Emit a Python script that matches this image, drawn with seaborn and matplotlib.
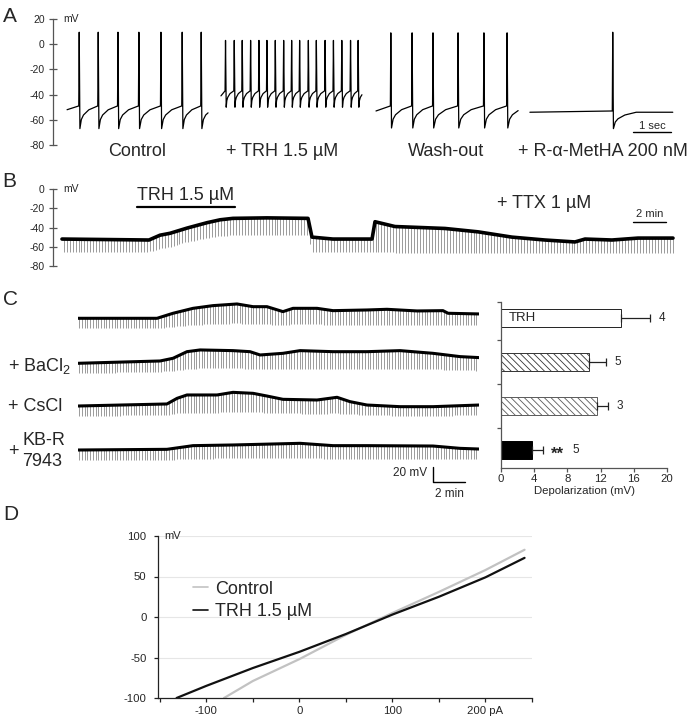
import numpy as np
import pandas as pd
import matplotlib
matplotlib.use("Agg")
import matplotlib.pyplot as plt
import seaborn as sns

# ---------------- data ----------------
# Panel A: spike trains (local time in s within each 3.7 s sweep)
a_labels = ["Control", "+ TRH 1.5 µM", "Wash-out", "+ R-α-MetHA 200 nM"]
a_seg_start = [0.37, 4.42, 8.50, 12.55]
a_seg_len = [3.71, 3.71, 3.74, 3.76]
ctrl_spikes = [0.32, 0.82, 1.34, 1.89, 2.47, 3.03, 3.53]
trh_spikes = [0.12, 0.35, 0.56, 0.78, 1.00, 1.21, 1.43, 1.65, 1.86, 2.07,
              2.30, 2.51, 2.74, 2.96, 3.18, 3.41, 3.61]
wash_spikes = [0.39, 0.95, 1.50, 2.16, 2.84, 3.45]
metha_spikes = [2.18]
a_peak = [9.5, 3.0, 9.0, 9.5]
a_trough = [-67.0, -50.0, -66.5, -67.0]
a_thresh = [-49.0, -37.0, -49.0, -53.0]
a_rest = [-52.0, -41.0, -53.0, -54.0]
ahp_t = [0.0, 0.08, 0.2, 0.5, 1.0]      # fraction of interspike interval
ahp_v = [0.0, 0.4, 0.6, 0.83, 1.0]      # fraction of recovery trough -> threshold

# Panel B: membrane potential (min, mV) and hyperpolarising pulse tips
b_t = [0, 5.27, 5.94, 6.55, 7.58, 8.79, 9.58, 10.36, 12.42, 14.91, 15.15, 16.42,
       18.79, 18.97, 20.18, 23.21, 25.21, 27.27, 29.27, 31.09, 31.70, 33.33, 34.91, 37.03]
b_top = [-52, -53, -48, -46, -40.6, -35, -32, -30.5, -30, -30.5, -50, -52,
         -52, -34, -39, -41, -44.5, -50, -53, -55, -52, -53, -51, -51]
b_tip = [-65, -65, -62, -60, -55, -51, -49, -48, -48, -48, -65, -65,
         -65, -65, -66, -66, -66, -66, -66, -66, -66, -66, -66, -66]
b_trh_on = [4.55, 10.48]

# Panel C traces (min, mV relative to initial baseline)
c1_t = [0, 4.94, 5.94, 7.19, 8.44, 9.94, 10.94, 11.81, 12.81, 13.44, 14.94, 15.94,
        18.06, 19.31, 21.19, 22.81, 23.13, 25.06]
c1_top = [0, 0, 6.7, 13.3, 16.9, 19.1, 15.5, 15.5, 8.9, 13.3, 13.3, 10.2,
          11.1, 12.0, 9.8, 10.2, 6.7, 5.8]
c1_tip = [-13.3, -13.3, -11.1, -8.9, -7.6, -6.7, -7.6, -8.0, -8.9, -8.0, -8.0, -8.9,
          -8.9, -8.4, -8.9, -8.9, -8.9, -8.9]
c2_t = [0, 5.13, 5.94, 6.81, 7.63, 9.69, 10.75, 11.38, 12.81, 13.88, 15.94, 18.06,
        20.13, 22.19, 23.88, 25.06]
c2_top = [0, 3.1, 6.7, 15.5, 17.8, 16.9, 15.5, 11.1, 13.3, 16.9, 15.5, 15.5,
          16.9, 13.3, 8.9, 7.6]
c2_tip = [-13.3, -11.1, -9.8, -8.0, -6.7, -6.7, -7.1, -8.0, -8.0, -7.1, -7.6, -7.6,
          -7.1, -8.0, -8.9, -9.8]
c3_t = [0, 5.56, 6.19, 6.81, 8.69, 9.69, 10.94, 11.81, 12.81, 14.94, 16.19, 17.0,
        18.06, 20.13, 22.19, 25.06]
c3_top = [0, 2.7, 10.2, 14.7, 14.7, 18.2, 16.9, 13.3, 8.9, 8.0, 11.6, 5.8,
          1.3, -0.9, -0.9, 1.3]
c3_tip = [-13.3, -12.0, -9.8, -8.9, -8.9, -7.6, -8.0, -8.9, -9.8, -10.2, -9.8, -10.7,
          -12.0, -12.9, -12.9, -12.4]
c4_t = [0, 5.56, 7.19, 9.69, 13.88, 15.94, 18.06, 22.19, 23.88, 25.06]
c4_top = [0, 0.9, 5.8, 6.7, 8.9, 5.8, 5.8, 5.3, 2.2, 1.3]
c4_tip = [-13.3, -13.3, -11.6, -11.1, -10.7, -11.6, -11.6, -11.6, -12.4, -12.4]
c_labels = ["", "+ BaCl$_2$", "+ CsCl", "+ KB-R\n7943"]

# Panel C bar chart
bar_cond = ["TRH", "+ BaCl2", "+ CsCl", "+ KB-R 7943"]
bar_mean = [14.4, 10.6, 11.6, 3.7]
bar_sem = [3.55, 2.05, 1.3, 1.36]
bar_n = ["4", "5", "3", "5"]

# Panel D: I-V relation
ctrl_I = [-81, -50, 0, 50, 100, 150, 200, 242]
ctrl_V = [-100, -79, -52, -22, 5, 31, 58, 83]
trh_I = [-132, -100, -50, 0, 50, 100, 150, 200, 242]
trh_V = [-100, -85, -63, -43, -21, 3, 25, 49, 73]

# ---------------- style ----------------
sns.set_theme(style="white")
plt.rcParams["font.family"] = ["Liberation Sans", "DejaVu Sans"]
plt.rcParams["mathtext.default"] = "regular"
plt.rcParams["axes.unicode_minus"] = False
plt.rcParams["hatch.linewidth"] = 0.6

W, H = 689, 719
fig = plt.figure(figsize=(W / 100, H / 100), dpi=100)
fig.patch.set_facecolor("white")


def add_ax(x0, y0, x1, y1):
    a = fig.add_axes([x0 / W, 1 - y1 / H, (x1 - x0) / W, (y1 - y0) / H])
    a.set_facecolor("none")
    return a


def ftext(x, y, s, **kw):
    fig.text(x / W, 1 - y / H, s, **kw)


def line(ax, x, y, **kw):
    sns.lineplot(x=np.asarray(x, float), y=np.asarray(y, float), ax=ax, sort=False,
                 estimator=None, errorbar=None, **kw)


SPINE = "#555555"


def vaxis(ax, ticks):
    for s in ["top", "right", "bottom"]:
        ax.spines[s].set_visible(False)
    ax.spines["left"].set_color(SPINE)
    ax.spines["left"].set_linewidth(0.9)
    ax.set_yticks(ticks)
    ax.set_yticklabels([str(t) for t in ticks])
    ax.set_xticks([])
    ax.tick_params(axis="y", direction="inout", length=6, width=0.9, color=SPINE,
                   labelsize=7.5, pad=3, left=True)
    ax.set_xlabel("")
    ax.set_ylabel("")


# ---------------- Panel A ----------------
axA = add_ax(53, 19, 689, 145)
seg_spikes = [ctrl_spikes, trh_spikes, wash_spikes, metha_spikes]
for k in range(4):
    sp = seg_spikes[k]
    L = a_seg_len[k]
    pk, tr, th, rs = a_peak[k], a_trough[k], a_thresh[k], a_rest[k]
    t = [0.0]
    v = [rs]
    for i, s in enumerate(sp):
        t += [s - 0.012, s, s + 0.018]
        v += [th, pk, tr]
        if i + 1 < len(sp):
            span = sp[i + 1] - 0.012 - (s + 0.018)
            end_v = th
        else:
            span = (s - sp[i - 1]) if i > 0 else 0.6
            end_v = rs if len(sp) == 1 else th
        rng = ahp_t[1:] if i + 1 == len(sp) else ahp_t[1:-1]
        rv = ahp_v[1:] if i + 1 == len(sp) else ahp_v[1:-1]
        for ft, fv in zip(rng, rv):
            t.append(s + 0.018 + ft * span)
            v.append(tr + fv * (end_v - tr))
    t = np.array(t)
    v = np.array(v)
    keep = t < L
    tt = list(t[keep]) + [L]
    vv = list(v[keep]) + [float(np.interp(L, t, v))]
    line(axA, np.array(tt) + a_seg_start[k], vv, color="black", linewidth=0.9)

axA.set_xlim(0, (689 - 53) / 38)
axA.set_ylim(-80, 20)
vaxis(axA, [20, 0, -20, -40, -60, -80])
axA.text((63 - 53) / 38, 20, "mV", fontsize=7.5, va="center", ha="left")
axA.plot([15.26, 16.26], [-69.7, -69.7], color="black", lw=1.0)
axA.text(15.76, -67.3, "1 sec", fontsize=8, ha="center", va="baseline")
for lab, cx in zip(a_labels, [137, 282, 446, 603]):
    ftext(cx, 156, lab, fontsize=13, ha="center", va="baseline")

# ---------------- Panel B ----------------
axB = add_ax(53, 189, 689, 266)
tk = np.arange(0.1, b_t[-1], 0.18)
axB.vlines(tk, np.interp(tk, b_t, b_tip), np.interp(tk, b_t, b_top),
           color="#8a8a8a", lw=0.6)
line(axB, b_t, b_top, color="black", linewidth=2.6)
axB.set_xlim((53 - 62) / 16.5, (689 - 62) / 16.5)
axB.set_ylim(-80, 0)
vaxis(axB, [0, -20, -40, -60, -80])
axB.text((63 - 62) / 16.5, 0, "mV", fontsize=7.5, va="center", ha="left")
axB.plot(b_trh_on, [-18.7, -18.7], color="black", lw=1.6, clip_on=False)
axB.text(np.mean(b_trh_on), -11.4, "TRH 1.5 µM", fontsize=13, ha="center", va="baseline")
axB.text(29.2, -19.7, "+ TTX 1 µM", fontsize=13, ha="center", va="baseline")
axB.plot([34.6, 36.6], [-34.3, -34.3], color="black", lw=1.0)
axB.text(35.6, -29.1, "2 min", fontsize=8, ha="center", va="baseline")

# ---------------- Panel C traces ----------------
axC = add_ax(78, 290, 479, 500)
c_sets = [(c1_t, c1_top, c1_tip), (c2_t, c2_top, c2_tip),
          (c3_t, c3_top, c3_tip), (c4_t, c4_top, c4_tip)]
c_base_px = [318.3, 363.3, 406.0, 450.0]
for (ct, ctop, ctip), bpx in zip(c_sets, c_base_px):
    off = -(bpx - 318.3) / 0.75
    tk = np.arange(0.08, ct[-1], 0.17)
    axC.vlines(tk, np.interp(tk, ct, ctip) + off, np.interp(tk, ct, ctop) + off,
               color="#8a8a8a", lw=0.6)
    line(axC, ct, np.array(ctop) + off, color="black", linewidth=2.2)
axC.set_xlim(0, (479 - 78) / 16)
axC.set_ylim(-(500 - 318.3) / 0.75, (318.3 - 290) / 0.75)
axC.axis("off")
x_sb = (433 - 78) / 16
axC.plot([x_sb, x_sb, x_sb + 2], [-198.3, -218.3, -218.3], color="black", lw=1.0)
ftext(427, 473, "20 mV", fontsize=8.5, ha="right", va="center")
ftext(449, 497, "2 min", fontsize=8.5, ha="center", va="baseline")
ftext(8, 370.7, c_labels[1], fontsize=13, ha="left", va="baseline")
ftext(8, 410.7, c_labels[2], fontsize=13, ha="left", va="baseline")
ftext(8, 456, "+", fontsize=13, ha="left", va="baseline")
ftext(22, 445, "KB-R", fontsize=13, ha="left", va="baseline")
ftext(22, 466, "7943", fontsize=13, ha="left", va="baseline")

# ---------------- Panel C bar chart ----------------
axBar = add_ax(501, 302, 667, 468)
df_bar = pd.DataFrame({"cond": bar_cond, "dep": bar_mean})
sns.barplot(data=df_bar, y="cond", x="dep", orient="h", ax=axBar, width=0.43,
            color="white", errorbar=None)
styles = [("white", "#222222", ""), ("white", "#333333", "\\\\\\\\\\"),
          ("white", "#5a5a5a", "\\\\\\\\\\"), ("black", "black", "")]
for p, (fc, ec, ht) in zip(axBar.patches, styles):
    p.set_facecolor(fc)
    p.set_edgecolor(ec)
    p.set_hatch(ht)
    p.set_linewidth(0.7)
axBar.errorbar(bar_mean, np.arange(4), xerr=[np.zeros(4), bar_sem], fmt="none",
               ecolor="#222222", elinewidth=0.9, capsize=2.6, capthick=0.9)
axBar.set_xlim(0, 20)
axBar.set_ylim(3.41, -0.364)
axBar.set_xticks([0, 4, 8, 12, 16, 20])
axBar.set_yticks([-0.364, 0.5, 1.5, 2.5])
axBar.set_yticklabels([])
for s in ["top", "right"]:
    axBar.spines[s].set_visible(False)
for s in ["left", "bottom"]:
    axBar.spines[s].set_color(SPINE)
    axBar.spines[s].set_linewidth(0.9)
axBar.tick_params(axis="x", direction="out", length=3, width=0.9, color=SPINE,
                  labelsize=8.2, pad=1.5, bottom=True)
axBar.tick_params(axis="y", direction="out", length=3, width=0.9, color=SPINE, left=True)
axBar.set_ylabel("")
axBar.set_xlabel("Depolarization (mV)", fontsize=8.2)
axBar.xaxis.set_label_coords(0.5, -(486 - 468) / 166)
axBar.text(0.9, 0, "TRH", fontsize=9.5, va="center", ha="left")
for i in range(4):
    xe = bar_mean[i] + bar_sem[i]
    if i == 3:
        axBar.text(xe + 0.9, 3 + 0.2, "**", fontsize=12, fontweight="bold",
                   va="baseline", ha="left")
        axBar.text(xe + 3.6, 3, bar_n[i], fontsize=8.5, va="center", ha="left")
    else:
        axBar.text(xe + 1.0, i, bar_n[i], fontsize=8.5, va="center", ha="left")

# ---------------- Panel D ----------------
axD = add_ax(157.5, 536, 532, 698)
df_d = pd.concat([
    pd.DataFrame({"pA": ctrl_I, "mV": ctrl_V, "cond": "Control"}),
    pd.DataFrame({"pA": trh_I, "mV": trh_V, "cond": "TRH 1.5 µM"}),
])
for yv in [100, 50, 0, -50]:
    axD.axhline(yv, color="#e6e6e6", lw=0.8, zorder=0)
sns.lineplot(data=df_d, x="pA", y="mV", hue="cond",
             palette={"Control": "#c2c2c2", "TRH 1.5 µM": "#111111"},
             linewidth=1.6, ax=axD, sort=False, estimator=None)
axD.set_xlim(-152.5, 250)
axD.set_ylim(-100, 100)
xt = [-150, -100, -50, 0, 50, 100, 150, 200, 250]
axD.set_xticks(xt)
axD.set_xticklabels(["", "-100", "", "0", "", "100", "", "200 pA", ""])
axD.set_yticks([-100, -50, 0, 50, 100])
axD.set_yticklabels(["-100", "-50", "0", "50", "100"])
for s in ["top", "right"]:
    axD.spines[s].set_visible(False)
for s in ["left", "bottom"]:
    axD.spines[s].set_color("#222222")
    axD.spines[s].set_linewidth(0.9)
axD.tick_params(axis="both", direction="out", length=3, width=0.9, color="#222222",
                labelsize=8.2, bottom=True, left=True)
axD.tick_params(axis="x", pad=3)
axD.tick_params(axis="y", pad=5)
axD.set_xlabel("")
axD.set_ylabel("")
axD.text(-145, 100, "mV", fontsize=8, va="center", ha="left")
leg = axD.legend(loc="upper left", bbox_to_anchor=((193 - 157.5) / 374.5, (698 - 580.5) / 162),
                 frameon=False, fontsize=13, handlelength=0.85, handletextpad=0.35,
                 labelspacing=0.3, borderpad=0, borderaxespad=0)
for lh in leg.get_lines():
    lh.set_linewidth(1.2)

# panel letters
for lab, x, y in [("A", 3, 21.7), ("B", 2, 186.7), ("C", 3, 305), ("D", 3, 520)]:
    ftext(x, y, lab, fontsize=15, ha="left", va="baseline")

fig.savefig("out.png", dpi=100, facecolor="white")
